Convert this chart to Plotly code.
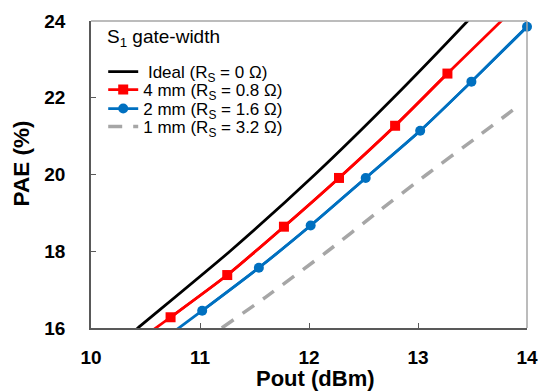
import plotly.graph_objects as go

# ---- data ----
ideal_pout = [10.20, 10.43, 11.275, 12.055, 12.775, 13.455, 13.70]
ideal_pae = [15.45, 16.00, 18.00, 20.00, 22.00, 24.00, 24.75]

mm4_pout = [10.23, 10.73, 11.25, 11.77, 12.275, 12.79, 13.27, 13.80]
mm4_pae = [15.25, 16.28, 17.38, 18.64, 19.91, 21.27, 22.63, 24.10]

mm2_pout = [10.52, 11.02, 11.54, 12.015, 12.52, 13.02, 13.49, 14.00]
mm2_pae = [15.40, 16.45, 17.57, 18.67, 19.91, 21.14, 22.42, 23.85]

mm1_pout = [11.20, 11.60, 12.17, 12.62, 13.08, 13.52, 13.95]
mm1_pae = [16.00, 16.80, 18.00, 19.00, 20.00, 20.93, 21.85]

x_ticks = [10, 11, 12, 13, 14]
y_ticks = [16, 18, 20, 22, 24]
x_range = [10, 14]
y_range = [16, 24]

legend_title = "S<sub>1</sub> gate-width"
names = [
    "\u00a0Ideal (R<sub>S</sub> = 0 \u03a9)",
    "4 mm (R<sub>S</sub> = 0.8 \u03a9)",
    "2 mm (R<sub>S</sub> = 1.6 \u03a9)",
    "1 mm (R<sub>S</sub> = 3.2 \u03a9)",
]

FONT = "Liberation Sans, Arial, sans-serif"
RED = "#ff0000"
BLUE = "#0070c0"
GRAY = "#a6a6a6"


def in_range(xs, ys):
    px, py = [], []
    for a, b in zip(xs, ys):
        if x_range[0] <= a <= x_range[1] and y_range[0] <= b <= y_range[1]:
            px.append(a)
            py.append(b)
    return px, py


fig = go.Figure()

fig.add_trace(go.Scatter(x=ideal_pout, y=ideal_pae, mode="lines", name=names[0], legend="legend",
                         line=dict(color="black", width=2.75, shape="spline", smoothing=0.6)))

fig.add_trace(go.Scatter(x=mm4_pout, y=mm4_pae, mode="lines", showlegend=False,
                         line=dict(color=RED, width=2.75, shape="spline", smoothing=0.6)))
mx, my = in_range(mm4_pout, mm4_pae)
fig.add_trace(go.Scatter(x=mx, y=my, mode="lines+markers", name=names[1], cliponaxis=False,
                         legend="legend2",
                         line=dict(color=RED, width=2.75, shape="spline", smoothing=0.6),
                         marker=dict(symbol="square", size=10, color=RED)))

fig.add_trace(go.Scatter(x=mm2_pout, y=mm2_pae, mode="lines", showlegend=False,
                         line=dict(color=BLUE, width=2.75, shape="spline", smoothing=0.6)))
bx, by = in_range(mm2_pout, mm2_pae)
fig.add_trace(go.Scatter(x=bx, y=by, mode="lines+markers", name=names[2], cliponaxis=False,
                         legend="legend3",
                         line=dict(color=BLUE, width=2.75, shape="spline", smoothing=0.6),
                         marker=dict(symbol="circle", size=10, color=BLUE)))

fig.add_trace(go.Scatter(x=mm1_pout, y=mm1_pae, mode="lines", name=names[3], legend="legend4",
                         line=dict(color=GRAY, width=3.5, dash="14px,11px",
                                   shape="spline", smoothing=0.6)))

axis_common = dict(
    showgrid=False, zeroline=False, showline=True, linecolor="#595959", linewidth=1.5,
    ticks="inside", ticklen=5, tickwidth=1.2, tickcolor="#595959", automargin=False,
    tickfont=dict(family=FONT, size=19, color="black", weight="bold"),
)

fig.update_xaxes(range=x_range, tickvals=x_ticks, ticklabelstandoff=11, **axis_common)
fig.update_yaxes(range=y_range, tickvals=y_ticks, ticklabelstandoff=20, **axis_common)

fig.add_shape(type="line", xref="paper", yref="paper", x0=0, x1=1, y0=1, y1=1,
              line=dict(color="#a6a6a6", width=1.5))
fig.add_shape(type="line", xref="paper", yref="paper", x0=1, x1=1, y0=0, y1=1,
              line=dict(color="#a6a6a6", width=1.5))

fig.add_annotation(text="<b>Pout (dBm)</b>", xref="paper", yref="paper", x=0.514, y=-0.163,
                   xanchor="center", yanchor="middle", showarrow=False,
                   font=dict(family=FONT, size=22, color="black"))
fig.add_annotation(text="<b>PAE (%)</b>", xref="paper", yref="paper", x=-0.159, y=0.535,
                   xanchor="center", yanchor="middle", showarrow=False, textangle=-90,
                   font=dict(family=FONT, size=22.5, color="black"))
fig.add_annotation(text=legend_title, xref="paper", yref="paper", x=0.032, y=0.945,
                   xanchor="left", yanchor="middle", showarrow=False,
                   font=dict(family=FONT, size=19, color="black"))

legend_rows_px = [72, 90, 109, 127]  # vertical centres of legend rows (pixels)
plot_top, plot_bottom = 21, 328
legend_style = dict(
    xanchor="left", yanchor="middle", bgcolor="rgba(0,0,0,0)", borderwidth=0,
    font=dict(family=FONT, size=17, color="black"),
)
layout_legends = {}
for i, yc in enumerate(legend_rows_px):
    key = "legend" if i == 0 else f"legend{i + 1}"
    layout_legends[key] = dict(x=0.028, y=(plot_bottom - yc) / (plot_bottom - plot_top),
                               **legend_style)

fig.update_layout(
    width=538, height=391,
    margin=dict(l=91, r=11, t=21, b=63),
    paper_bgcolor="white", plot_bgcolor="white",
    showlegend=True,
    **layout_legends,
)

fig.write_html("out.html")
